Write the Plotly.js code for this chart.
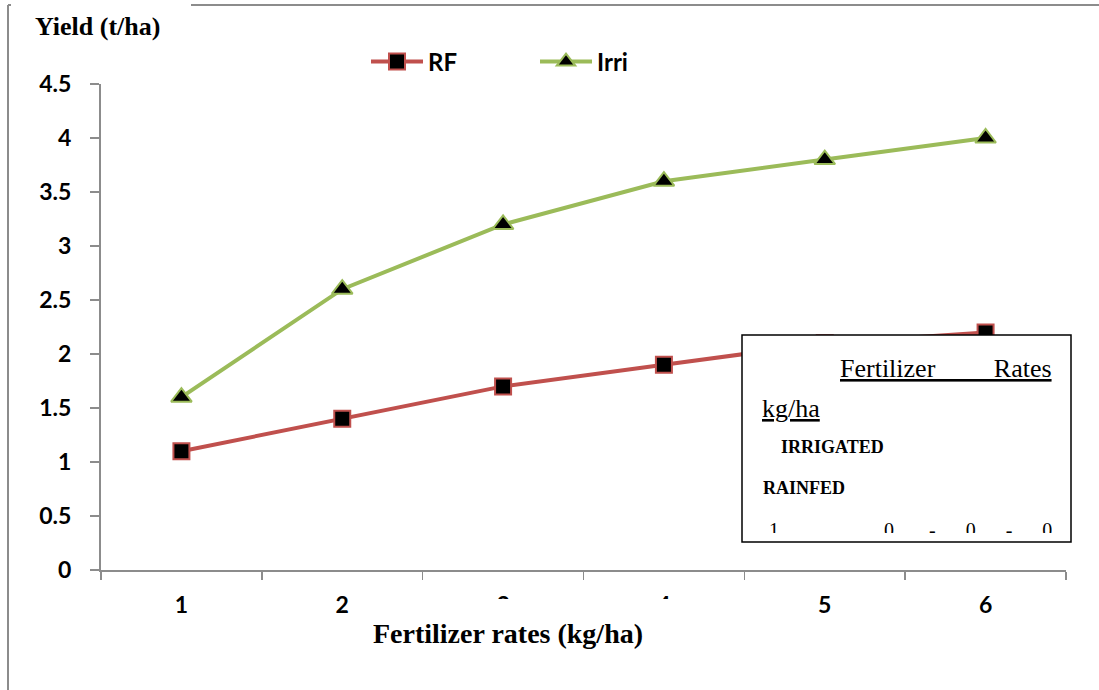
<!DOCTYPE html>
<html>
<head>
<meta charset="utf-8">
<script src="https://cdn.plot.ly/plotly-3.0.1.min.js"></script>
<style>
html,body{margin:0;padding:0;background:#fff;}
#chart{width:1099px;height:690px;}
</style>
</head>
<body>
<div id="chart"></div>
<script>
// ---- data ----
const rates = ['1', '2', '3', '4', '5', '6'];
const rfYield = [1.1, 1.4, 1.7, 1.9, 2.1, 2.2];
const irriYield = [1.6, 2.6, 3.2, 3.6, 3.8, 4.0];
const seriesNames = ['RF', 'Irri'];
const yTitle = 'Yield (t/ha)';
const xTitle = 'Fertilizer rates (kg/ha)';
const boxLines = ['Fertilizer', 'Rates', 'kg/ha', 'IRRIGATED', 'RAINFED'];
const boxLastLine = ['1', '0', '-', '0', '-', '0'];

// ---- layout helpers (pixel -> paper) ----
const PL = 101, PR = 1066, PT = 84, PB = 570;
const px = x => (x - PL) / (PR - PL);
const py = y => (PB - y) / (PB - PT);
const nb = n => '\u00A0'.repeat(n);

const tickFont = {family: 'Lato, "Open Sans", sans-serif', size: 23, color: '#000', weight: 'bold'};
const legendFont = {family: 'Lato, "Open Sans", sans-serif', size: 24, color: '#000', weight: 'bold'};
const serif = 'Liberation Serif, "Times New Roman", serif';
const gray = '#8c8c8c';

const traces = [
  {
    x: rates, y: rfYield, name: seriesNames[0], type: 'scatter', mode: 'lines+markers',
    line: {color: '#C0504D', width: 4},
    marker: {symbol: 'square', size: 16, color: '#000', line: {color: '#C0504D', width: 2}}
  },
  {
    x: rates, y: irriYield, name: seriesNames[1], type: 'scatter', mode: 'lines+markers',
    line: {color: '#9BBB59', width: 4},
    marker: {symbol: 'triangle-up', size: 18, color: '#000', line: {color: '#9BBB59', width: 2}}
  }
];

const lastLineText = boxLastLine[0] + nb(21) + boxLastLine[1] + nb(7) + boxLastLine[2] + nb(6) +
  boxLastLine[3] + nb(6) + boxLastLine[4] + nb(6) + boxLastLine[5];

const layout = {
  width: 1099, height: 690,
  margin: {l: PL, r: 1099 - PR, t: PT, b: 690 - PB, pad: 0},
  paper_bgcolor: '#fff', plot_bgcolor: '#fff',
  showlegend: true,
  legend: {
    orientation: 'h', x: px(366), xanchor: 'left', y: py(62), yanchor: 'middle',
    font: legendFont, bgcolor: 'rgba(0,0,0,0)', itemwidth: 52,
    entrywidth: 102, entrywidthmode: 'pixels'
  },
  xaxis: {
    type: 'category', range: [-0.5, 5.5], tickson: 'boundaries',
    ticks: 'outside', ticklen: 8, tickwidth: 1.5, tickcolor: gray,
    showline: true, linecolor: gray, linewidth: 2,
    showgrid: false, zeroline: false, tickfont: tickFont, ticklabelstandoff: 13,
    fixedrange: true
  },
  yaxis: {
    range: [0, 4.5], dtick: 0.5, tick0: 0,
    ticks: 'outside', ticklen: 9, tickwidth: 1.5, tickcolor: gray,
    showline: true, linecolor: gray, linewidth: 2,
    showgrid: false, zeroline: false, tickfont: tickFont, ticklabelstandoff: 14,
    fixedrange: true
  },
  shapes: [
    // outer frame
    {type: 'line', xref: 'paper', yref: 'paper', x0: px(8), x1: px(8), y0: py(5), y1: py(700),
     line: {color: gray, width: 2}},
    {type: 'line', xref: 'paper', yref: 'paper', x0: px(8), x1: px(11), y0: py(5), y1: py(5),
     line: {color: gray, width: 2}},
    {type: 'line', xref: 'paper', yref: 'paper', x0: px(191), x1: px(1110), y0: py(5), y1: py(5),
     line: {color: gray, width: 2}},
    // overlaid text box
    {type: 'rect', xref: 'paper', yref: 'paper', layer: 'above',
     x0: px(742), x1: px(1071), y0: py(542), y1: py(335),
     fillcolor: '#fff', line: {color: '#000', width: 1.5}}
  ],
  annotations: [
    {text: '<b>' + yTitle + '</b>', xref: 'paper', yref: 'paper', x: px(33), y: py(27),
     xanchor: 'left', yanchor: 'middle', showarrow: false,
     font: {family: serif, size: 26, color: '#000'}},
    {text: '<b>' + xTitle + '</b>', xref: 'paper', yref: 'paper', x: px(373), y: py(599),
     xanchor: 'left', yanchor: 'top', showarrow: false, width: 303, height: 68,
     align: 'left', valign: 'middle', bgcolor: '#fff', borderpad: 0, borderwidth: 0,
     font: {family: serif, size: 28, color: '#000'}},
    {text: '<u>' + boxLines[0] + nb(9) + boxLines[1] + '</u>', xref: 'paper', yref: 'paper',
     x: px(838), y: py(368), xanchor: 'left', yanchor: 'middle', showarrow: false,
     font: {family: serif, size: 26, color: '#000'}},
    {text: '<u>' + boxLines[2] + '</u>', xref: 'paper', yref: 'paper',
     x: px(760), y: py(408), xanchor: 'left', yanchor: 'middle', showarrow: false,
     font: {family: serif, size: 26, color: '#000'}},
    {text: '<b>' + boxLines[3] + '</b>', xref: 'paper', yref: 'paper',
     x: px(779), y: py(447), xanchor: 'left', yanchor: 'middle', showarrow: false,
     font: {family: serif, size: 18, color: '#000'}},
    {text: '<b>' + boxLines[4] + '</b>', xref: 'paper', yref: 'paper',
     x: px(761), y: py(488), xanchor: 'left', yanchor: 'middle', showarrow: false,
     font: {family: serif, size: 18, color: '#000'}},
    {text: lastLineText, xref: 'paper', yref: 'paper',
     x: px(768), y: py(518), xanchor: 'left', yanchor: 'top', showarrow: false,
     height: 14, valign: 'top', align: 'left', borderpad: 0,
     font: {family: serif, size: 20, color: '#000'}}
  ]
};

Plotly.newPlot('chart', traces, layout, {displayModeBar: false, staticPlot: true});
</script>
</body>
</html>
